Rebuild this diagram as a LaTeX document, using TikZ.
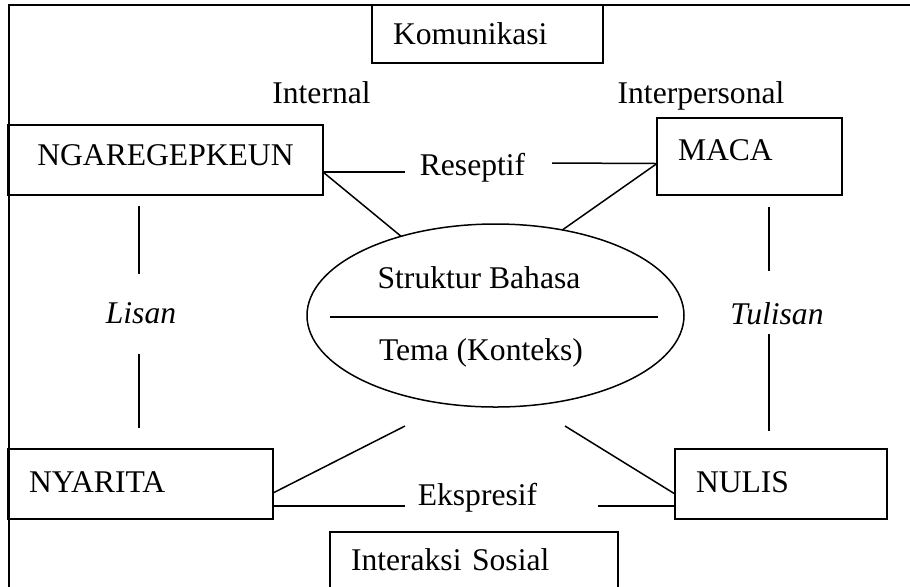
\documentclass[tikz,border=0pt]{standalone}
\usepackage{fontspec}
\setmainfont{Liberation Serif}
\usetikzlibrary{shapes.geometric}

\begin{document}
\begin{tikzpicture}[x={(0.5pt,0)},y={(0,-0.5pt)},line width=0.75pt,
  every node/.style={font=\fontsize{15.8}{18}\selectfont, outer sep=0pt},
  box/.style={draw, anchor=north west, align=left, inner xsep=10.5pt, minimum height=35pt, text depth=4pt},
  lbl/.style={anchor=base, inner sep=0pt}]

\path[use as bounding box] (0,0) rectangle (910,586);
\clip (0,0) rectangle (910,586);

\draw (9,5) rectangle (940,620);

\node[box, text width=94.5pt, minimum height=29pt, text depth=0pt] (kom) at (372,5) {Komunikasi};
\node[box, text width=136.5pt, align=center, text depth=5pt] (ngar) at (8,125) {NGAREGEPKEUN};
\node[box, text width=71.5pt, minimum height=38.5pt, text depth=6.5pt] (maca) at (657,118) {MACA};
\node[box, text width=111.5pt, text depth=2pt] (nyar) at (8,449) {NYARITA};
\node[box, text width=85pt, text depth=2pt] (nulis) at (675,449) {NULIS};
\node[box, text width=123pt, minimum height=34pt, text depth=6pt] (inter) at (330,532) {Interaksi Sosial};

\node[draw, ellipse, minimum width=188.5pt, minimum height=91.5pt, inner sep=0pt] (ell) at (495.5,315.5) {};
\node[lbl] (sb) at (479,288) {Struktur Bahasa};
\node[lbl] (tk) at (481,360) {Tema (Konteks)};
\draw ([xshift=11.5pt,yshift=-0.75pt]ell.west) -- ([xshift=-13pt,yshift=-0.75pt]ell.east);

\node[lbl] (int) at (321.5,103) {Internal};
\node[lbl] (ipers) at (701,103) {Interpersonal};
\node[lbl] (rese) at (472.5,175) {Reseptif};
\node[lbl] (eksp) at (477.5,505) {Ekspresif};
\node[lbl] (lis) at (141,323) {\itshape Lisan};
\node[lbl] (tul) at (777,324) {\itshape Tulisan};

% free ends
\coordinate (r1) at (405,172);
\coordinate (r2) at (552,163);
\coordinate (e1) at (405,506);
\coordinate (e2) at (598,506);
\coordinate (d3) at (405,426);
\coordinate (d4) at (565,426);

\draw ([yshift=-6pt]ngar.east) -- (r1);
\draw ([yshift=-6pt]ngar.east) -- (ell.140);
\draw ([yshift=-3.5pt]maca.west) -- (r2);
\draw ([yshift=-3.5pt]maca.west) -- (ell.52);
\draw ([yshift=-4.5pt]nyar.east) -- (d3);
\draw ([yshift=-11pt]nyar.east) -- (e1);
\draw ([yshift=-5pt]nulis.west) -- (d4);
\draw ([yshift=-11pt]nulis.west) -- (e2);

% lisan / tulisan
\coordinate (l1) at (139,206);
\coordinate (l2) at (139,274);
\coordinate (l3) at (139,354);
\coordinate (l4) at (139,428);
\coordinate (t1) at (769,207);
\coordinate (t2) at (769,271);
\coordinate (t3) at (769,334);
\coordinate (t4) at (769,431);
\draw (l1) -- (l2);
\draw (l3) -- (l4);
\draw (t1) -- (t2);
\draw (t3) -- (t4);

\end{tikzpicture}
\end{document}
